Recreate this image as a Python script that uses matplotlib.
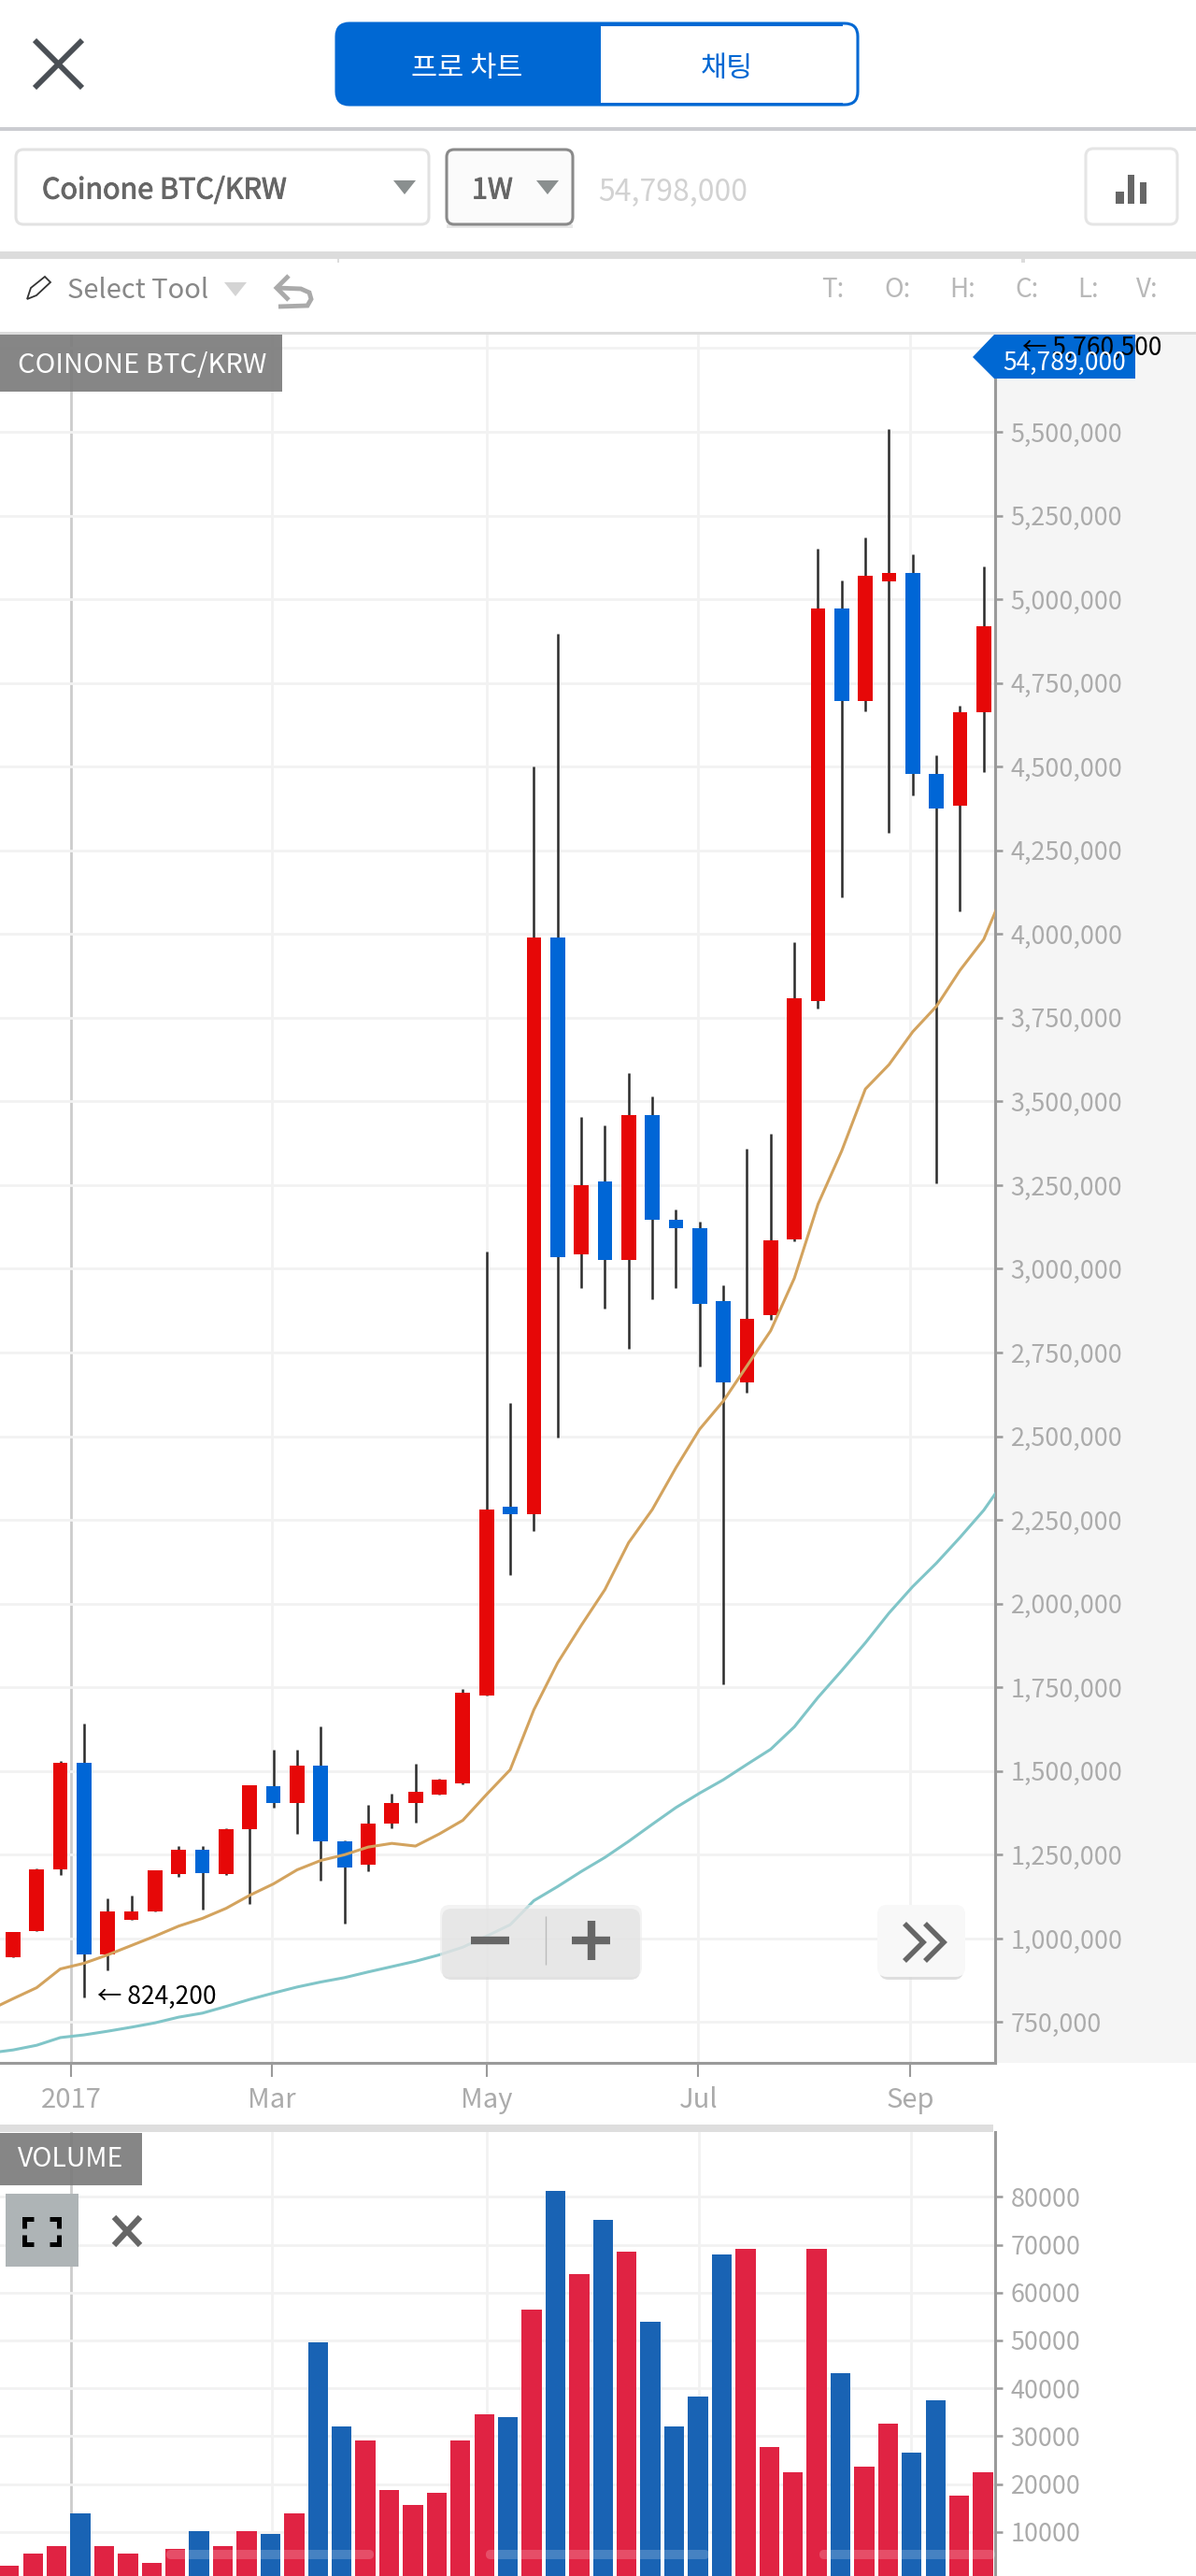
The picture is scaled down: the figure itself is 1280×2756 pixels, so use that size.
import matplotlib
matplotlib.use("Agg")
import matplotlib.pyplot as plt
import matplotlib.patheffects as pe
import numpy as np
from matplotlib.patches import FancyBboxPatch, Polygon, Rectangle

plt.rcParams['font.family'] = ['Noto Sans CJK KR', 'DejaVu Sans']

W = 1280
H = 2756

# weekly candles (KRW)
opens = [944000, 1022000, 1205000, 1526000, 952000, 1056000, 1081000, 1193000, 1264000, 1193000, 1326000,
         1456000, 1404000, 1516000, 1290000, 1220000, 1342000, 1404000, 1429000, 1463000, 1727000, 2290000,
         2266000, 3990000, 3044000, 3260000, 3026000, 3459000, 3147000, 3121000, 2903000, 2660000, 2861000,
         3087000, 3799000, 4973000, 4697000, 5052000, 5077000, 4478000, 4384000, 4663000]
closes = [1020000, 1205000, 1526000, 952000, 1081000, 1081000, 1204000, 1264000, 1194000, 1326000, 1457000,
          1404000, 1516000, 1290000, 1212000, 1342000, 1404000, 1438000, 1473000, 1733000, 2281000, 2266000,
          3990000, 3035000, 3251000, 3026000, 3459000, 3147000, 3121000, 2895000, 2660000, 2851000, 3085000,
          3807000, 4973000, 4697000, 5069000, 5077000, 4479000, 4374000, 4661000, 4920000]
highs = [1020000, 1208000, 1530000, 1641000, 1121000, 1129000, 1204000, 1276000, 1276000, 1328000, 1459000,
         1563000, 1563000, 1634000, 1294000, 1398000, 1433000, 1521000, 1476000, 1746000, 3051000, 2600000,
         4500000, 4898000, 3454000, 3428000, 3585000, 3516000, 3176000, 3141000, 2951000, 3359000, 3402000,
         3977000, 5150000, 5055000, 5185000, 5507000, 5133000, 4534000, 4682000, 5099000]
lows = [944000, 1022000, 1190000, 824200, 904000, 1056000, 1081000, 1185000, 1086000, 1190000, 1104000,
        1391000, 1313000, 1174000, 1044000, 1200000, 1329000, 1347000, 1429000, 1460000, 1727000, 2087000,
        2217000, 2496000, 2943000, 2882000, 2761000, 2908000, 2943000, 2708000, 1758000, 2630000, 2847000,
        3082000, 3777000, 4110000, 4666000, 4302000, 4414000, 3256000, 4068000, 4484000]
volumes = [2900, 5400, 7100, 13800, 7100, 5400, 3600, 6500, 10200, 7100, 10200, 9600, 13800, 49650, 32100,
           29100, 18800, 15700, 18100, 29100, 34600, 33900, 56500, 81200, 63800, 75200, 68600, 53900, 32100,
           38200, 67900, 69200, 27800, 22400, 69200, 43100, 23600, 32700, 26600, 37500, 17500, 22400]

# moving averages run one week past each end of the visible candles
ma_x = list(range(-1, 43))
ma_short = [786000, 820000, 853000, 909000, 926000, 951000, 979000, 1007000, 1037000, 1060000, 1090000,
            1129000, 1163000, 1205000, 1233000, 1250000, 1273000, 1284000, 1276000, 1312000, 1353000, 1430000,
            1504000, 1683000, 1823000, 1935000, 2042000, 2182000, 2281000, 2406000, 2521000, 2605000, 2710000,
            2815000, 2972000, 3193000, 3352000, 3537000, 3610000, 3708000, 3784000, 3892000, 3984000, 4152000]
ma_long = [658000, 667000, 681000, 704000, 712000, 723000, 735000, 748000, 765000, 777000, 797000, 818000,
           837000, 855000, 870000, 883000, 900000, 916000, 932000, 951000, 974000, 1007000, 1041000, 1113000,
           1155000, 1200000, 1242000, 1290000, 1341000, 1391000, 1434000, 1474000, 1520000, 1565000, 1632000,
           1720000, 1800000, 1883000, 1972000, 2051000, 2121000, 2198000, 2279000, 2380000]

price_ticks = [750000, 1000000, 1250000, 1500000, 1750000, 2000000, 2250000, 2500000, 2750000, 3000000,
               3250000, 3500000, 3750000, 4000000, 4250000, 4500000, 4750000, 5000000, 5250000, 5500000, 5750000]
volume_ticks = [10000, 20000, 30000, 40000, 50000, 60000, 70000, 80000]
date_pos = [2.45, 10.93, 20.0, 28.95, 37.9]
vol_date_pos = [2.6, 11.05, 20.1, 29.05, 37.95]
date_labels = ['2017', 'Mar', 'May', 'Jul', 'Sep']

RED = '#E60808'
BLUE = '#0066D6'
VOL_RED = '#E02343'
VOL_BLUE = '#1963B4'
BRAND = '#0068D3'
AXIS = '#9a9a9a'
LABEL = '#ababab'
GRID = '#f2f2f2'


def px_axes(x0, y0, x1, y1):
    return fig.add_axes([x0 / W, 1 - y1 / H, (x1 - x0) / W, (y1 - y0) / H])


def style_chart(ax):
    ax.yaxis.tick_right()
    ax.spines['top'].set_visible(False)
    ax.spines['left'].set_visible(False)
    ax.spines['right'].set_color(AXIS)
    ax.spines['right'].set_linewidth(2.2)
    ax.set_axisbelow(True)
    ax.grid(True, color=GRID, linewidth=2.0)
    ax.tick_params(axis='y', length=6, width=1.8, color=AXIS, pad=6, labelsize=19.4, labelcolor=LABEL)


def box(x0, y0, x1, y1, face, edge='none', lw=0, r=0, alpha=None, z=1):
    if r > 0:
        p = FancyBboxPatch((x0 + r, y0 + r), x1 - x0 - 2 * r, y1 - y0 - 2 * r, boxstyle="round,pad=%d" % r,
                           facecolor=face, edgecolor=edge, linewidth=lw, alpha=alpha, zorder=z)
    else:
        p = Rectangle((x0, y0), x1 - x0, y1 - y0, facecolor=face, edgecolor=edge, linewidth=lw, alpha=alpha, zorder=z)
    ui.add_patch(p)


def tri(cx, y0, y1, half, color):
    ui.add_patch(Polygon([(cx - half, y0), (cx + half, y0), (cx, y1)], facecolor=color, edgecolor='none', zorder=3))


def stroke(xs, ys, color, lw, z=4):
    ui.plot(xs, ys, color=color, linewidth=lw, solid_capstyle='butt', solid_joinstyle='miter', zorder=z)


fig = plt.figure(figsize=(W / 100, H / 100), dpi=100, facecolor='white')

# gray strip behind the price scale
back = fig.add_axes([0, 0, 1, 1], zorder=-1)
back.set_xlim(0, W)
back.set_ylim(H, 0)
back.axis('off')
back.add_patch(Rectangle((1065, 357), 215, 1850, facecolor='#f5f5f5', edgecolor='none'))

x = np.arange(len(opens))
colors = [RED if c >= o else BLUE for o, c in zip(opens, closes)]
vol_colors = [VOL_RED if c >= o else VOL_BLUE for o, c in zip(opens, closes)]
bottoms = [min(o, c) for o, c in zip(opens, closes)]
heights = [abs(c - o) for o, c in zip(opens, closes)]

# price panel
ax = px_axes(0, 357, 1065, 2207)
ax.set_xlim(-0.548, 41.48)
ax.set_ylim(628500, 5793000)
style_chart(ax)
ax.spines['bottom'].set_color(AXIS)
ax.spines['bottom'].set_linewidth(2.2)
ax.vlines(x, lows, highs, color='#2b2b2b', linewidth=1.8, zorder=3)
ax.bar(x, heights, bottom=bottoms, width=0.62, color=colors, zorder=4)
ax.plot(ma_x, ma_long, color='#80C5C8', linewidth=2.2, zorder=5)
ax.plot(ma_x, ma_short, color='#D3A35E', linewidth=2.2, zorder=5)
ax.set_yticks(price_ticks)
ax.set_yticklabels([format(v, ',') if v < 5750000 else '' for v in price_ticks])
ax.set_xticks(date_pos)
ax.set_xticklabels(date_labels)
ax.tick_params(axis='x', length=11, width=1.5, color=AXIS, pad=7, labelsize=21, labelcolor=LABEL)
ax.get_xgridlines()[0].set_color('#cccccc')
ax.text(3.55, 825000, '\u2190 824,200', fontsize=19, color='black', va='center', ha='left', zorder=6)

# volume panel, its bars sit slightly off the candle grid
vax = px_axes(0, 2281, 1065, 2756)
vax.set_xlim(-0.3855, 41.51)
vax.set_ylim(780, 93555)
style_chart(vax)
vax.spines['bottom'].set_visible(False)
vax.bar(x, volumes, width=0.84, color=vol_colors, zorder=3)
vax.set_yticks(volume_ticks)
vax.set_yticklabels([str(v) for v in volume_ticks])
vax.set_xticks(vol_date_pos)
vax.tick_params(axis='x', length=0, labelbottom=False)
vax.get_xgridlines()[0].set_color('#cccccc')

# everything around the charts sits on an overlay in pixel coordinates
ui = fig.add_axes([0, 0, 1, 1], zorder=10)
ui.set_xlim(0, W)
ui.set_ylim(H, 0)
ui.axis('off')
ui.patch.set_alpha(0)

# top bar
stroke([37, 88], [43, 94], '#4a4f55', 4.2)
stroke([37, 88], [94, 43], '#4a4f55', 4.2)
box(360, 25, 918, 112, 'white', edge=BRAND, lw=2.2, r=14)
box(360, 25, 660, 112, BRAND, r=14)
box(643, 27, 680, 110, 'white', z=2)
ui.plot([643, 900], [26, 26], color=BRAND, linewidth=2.2, zorder=3)
ui.plot([643, 900], [111, 111], color=BRAND, linewidth=2.2, zorder=3)
ui.text(500, 73, '프로 차트', color='white', fontsize=22, ha='center', va='center', zorder=5)
ui.text(778, 73, '채팅', color=BRAND, fontsize=22, ha='center', va='center', zorder=5)
box(0, 136, W, 140, '#cbccd1')

# selector row
heavy = [pe.withStroke(linewidth=0.7, foreground='#666666')]
box(17, 160, 459, 240, 'white', edge='#e2e2e2', lw=2.2, r=8)
ui.text(45, 204, 'Coinone BTC/KRW', color='#666666', fontsize=22, va='center', path_effects=heavy)
tri(433, 193, 208, 12, '#8a8f8f')
box(478, 240, 613, 244, '#e8e8e8', z=1)
box(478, 160, 613, 240, '#fbfbfb', edge='#8a8a8a', lw=2.2, r=8, z=2)
ui.text(505, 204, '1W', color='#666666', fontsize=22, va='center', zorder=5, path_effects=heavy)
tri(586, 193, 208, 12, '#8a8f8f')
ui.text(640, 206, '54,798,000', color='#d2d2d2', fontsize=23, va='center')
box(1162, 159, 1260, 240, 'white', edge='#e5e5e5', lw=2.2, r=8)
box(1194, 205, 1202.5, 218, '#666666', z=3)
box(1206.5, 187, 1214, 218, '#666666', z=3)
box(1219.5, 195, 1226.5, 218, '#666666', z=3)
box(0, 269, W, 277, '#dcdcdc')
box(361, 277, 363, 281, '#dcdcdc')
box(1093, 277, 1097, 281, '#dcdcdc')

# drawing tool row
ui.add_patch(Polygon([(29, 320), (33, 308), (48, 296), (54, 302), (39, 316)], facecolor='white',
                     edgecolor='#333333', linewidth=1.3, zorder=3))
ui.text(72, 311, 'Select Tool', color='#888888', fontsize=21, va='center')
tri(252, 302, 317, 12, '#d4d4d4')
stroke([309, 296, 309], [295, 308, 321], '#aaaaaa', 3.5)
stroke([296, 322, 331, 333, 329, 298], [308, 309, 313, 320, 327, 328], '#aaaaaa', 3.5)
for lab, lx in zip(['T:', 'O:', 'H:', 'C:', 'L:', 'V:'], [879, 946, 1016, 1086, 1153, 1216]):
    ui.text(lx, 310, lab, color='#b8b8b8', fontsize=20, va='center')
box(0, 355, W, 358, '#dddddd')

# panel captions
box(0, 358, 302, 419, '#7c7c7c', alpha=0.92, z=6)
ui.text(19, 391, 'COINONE BTC/KRW', color='white', fontsize=21, va='center', zorder=7)
box(0, 2273, 1063, 2281, '#dedede')
box(0, 2282, 152, 2338, '#7c7c7c', alpha=0.92, z=6)
ui.text(76, 2310, 'VOLUME', color='white', fontsize=20.5, ha='center', va='center', zorder=7)

# last price tag
ui.add_patch(Polygon([(1041, 382), (1064, 358), (1215, 358), (1215, 405), (1064, 405)], facecolor=BRAND,
                     edgecolor='none', zorder=6))
ui.text(1094, 372, '\u2190 5,760,500', color='black', fontsize=19, va='center', zorder=7)
ui.text(1139, 388, '54,789,000', color='white', fontsize=19, ha='center', va='center', zorder=8)

# zoom buttons, the long average shows through them
box(473, 2042, 685, 2118, '#d0d0d0', r=10, alpha=0.6, z=3)
box(471, 2038, 687, 2115, '#ececec', r=10, alpha=0.6, z=4)
stroke([504, 545], [2076, 2076], '#666666', 6, z=5)
stroke([612, 653], [2076, 2076], '#666666', 6, z=5)
stroke([633, 633], [2055, 2097], '#666666', 6, z=5)
stroke([584, 584], [2050, 2102], '#bbbbbb', 1, z=5)
box(941, 2042, 1031, 2118, '#d6d6d6', r=10, alpha=0.8, z=3)
box(939, 2038, 1033, 2115, '#f8f8f8', r=10, z=4)
stroke([968, 988, 968], [2058, 2078, 2098], '#666666', 4, z=5)
stroke([990, 1010, 990], [2058, 2078, 2098], '#666666', 4, z=5)

# volume panel buttons
box(6, 2347, 84, 2425, '#aeb4b6', z=6)
for cx, dx in [(26, 1), (63, -1)]:
    for cy, dy in [(2374, 1), (2401, -1)]:
        stroke([cx, cx, cx + dx * 10], [cy + dy * 10, cy, cy], 'black', 3.6, z=7)
stroke([122, 150], [2372, 2402], '#666666', 4.5, z=7)
stroke([122, 150], [2402, 2372], '#666666', 4.5, z=7)

# scroll bar ghosts
box(178, 2728, 400, 2738, 'white', r=5, alpha=0.2, z=6)
box(520, 2728, 759, 2738, 'white', r=5, alpha=0.2, z=6)
box(877, 2728, 1065, 2738, 'white', r=5, alpha=0.2, z=6)

fig.savefig('out.png', dpi=100)
